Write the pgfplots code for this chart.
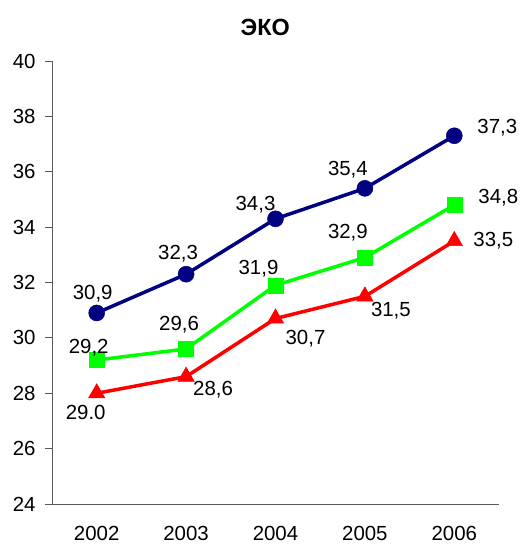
\documentclass[border=0pt]{standalone}
\usepackage{fontspec}
\setmainfont{Liberation Sans}
\usepackage{pgfplots}
\pgfplotsset{compat=1.18}
\usepackage{pgfplotstable}
\definecolor{navyc}{RGB}{0,0,128}
\definecolor{greenc}{RGB}{0,255,0}
\definecolor{redc}{RGB}{255,0,0}
\pgfplotstableread{
x y lab dx dy
0 30.9 {30,9} -4 19
1 32.3 {32,3} -8 21
2 34.3 {34,3} -20 14
3 35.4 {35,4} -17 19
4 37.3 {37,3} 43 8
}\navydata
\pgfplotstableread{
x y lab dx dy
0 29.2 {29,2} -8 12
1 29.6 {29,6} -7 24
2 31.9 {31,9} -17 17
3 32.9 {32,9} -17 25
4 34.8 {34,8} 44 7
}\greendata
\pgfplotstableread{
x y lab dx dy
0 28.0 {29.0} -11 -19
1 28.6 {28,6} 27 -13
2 30.7 {30,7} 30 -20
3 31.5 {31,5} 26 -14
4 33.5 {33,5} 39 0
}\reddata
\begin{document}
\begin{tikzpicture}
\useasboundingbox (0,0) rectangle (521bp,544bp);
\begin{axis}[
  at={(52bp,40bp)}, anchor=south west,
  scale only axis, width=447bp, height=443bp,
  xmin=-0.5, xmax=4.5, ymin=24, ymax=40,
  ytick={24,26,...,40},
  xtick={0,1,2,3,4},
  xticklabels={2002,2003,2004,2005,2006},
  minor xtick={-0.5,0.5,1.5,2.5,3.5,4.5},
  xtick style={draw=none},
  minor tick length=7bp, major tick length=7bp,
  tick align=outside,
  axis x line*=bottom, axis y line*=left,
  axis line style={black!65, line width=0.9bp},
  every tick/.style={black!65, line width=0.9bp},
  minor x tick style={black!65, line width=0.9bp},
  tick label style={font=\fontsize{20.5}{22}\selectfont},
  /pgf/number format/assume math mode=true,
  yticklabel style={xshift=-6bp},
  xticklabel style={yshift=-12bp},
  title={ЭКО},
  title style={at={(0.477,1)}, anchor=center, yshift=28bp, font=\bfseries\fontsize{23.5}{25}\selectfont},
  clip=false,
  nodes near coords,
  point meta=explicit symbolic,
  visualization depends on={\thisrow{dx}\as\dx},
  visualization depends on={\thisrow{dy}\as\dy},
  every node near coord/.append style={anchor=center, xshift=\dx bp, yshift=\dy bp, font=\fontsize{20.5}{22}\selectfont, text=black, inner sep=0pt},
]
\addplot[navyc, line width=3.5bp, mark=*, mark size=8bp, mark options={solid, fill=navyc, line width=0.5bp}] table[x=x, y=y, meta=lab] {\navydata};
\addplot[greenc, line width=3.5bp, mark=square*, mark size=7.5bp, mark options={solid, fill=greenc, line width=0.5bp}] table[x=x, y=y, meta=lab] {\greendata};
\addplot[redc, line width=3.5bp, mark=triangle*, mark size=9.5bp, mark options={solid, fill=redc, line width=0.5bp}] table[x=x, y=y, meta=lab] {\reddata};
\end{axis}
\end{tikzpicture}
\end{document}
